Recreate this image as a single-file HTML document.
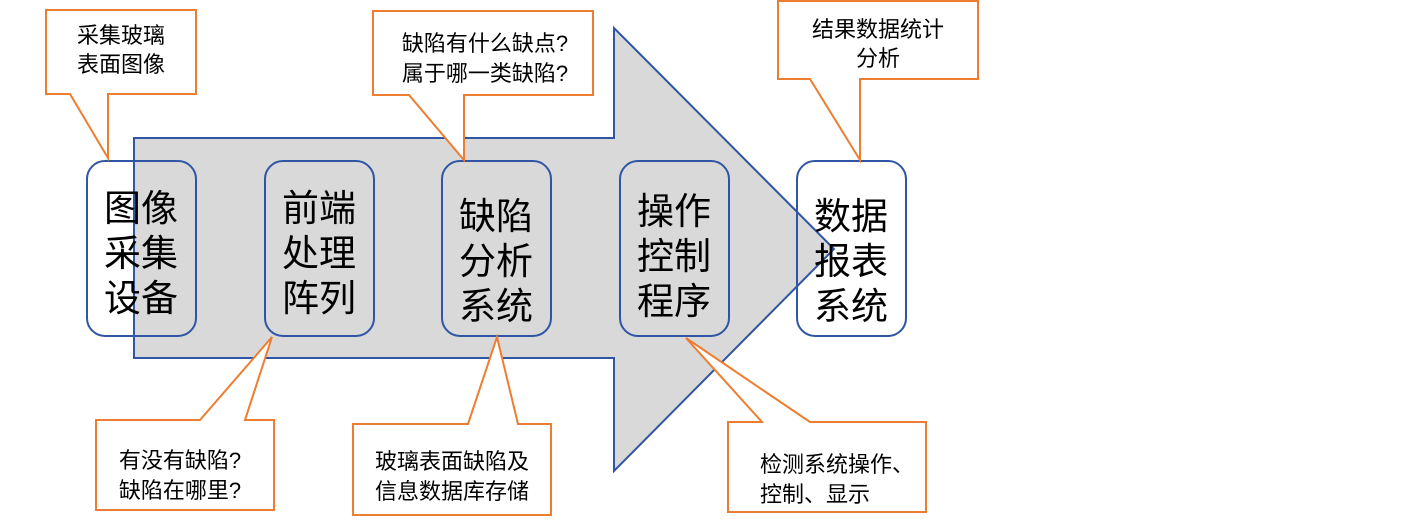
<!DOCTYPE html>
<html><head><meta charset="utf-8"><style>
html,body{margin:0;padding:0;background:#fff;}
svg text{font-family:"Liberation Sans","Noto Sans CJK SC",sans-serif;fill:#000;}
</style></head><body>
<svg width="1413" height="517" viewBox="0 0 1413 517" xmlns="http://www.w3.org/2000/svg">
<polygon points="134,138 614,138 614,28 834,249 614,471 614,358 134,358" fill="#d9d9d9" stroke="#2f55a4" stroke-width="2"/>
<g fill="none" stroke="#2f55a4" stroke-width="2">
<rect x="87" y="161" width="109" height="175" rx="18"/>
<rect x="265" y="161" width="109" height="175" rx="18"/>
<rect x="442" y="161" width="109" height="175" rx="18"/>
<rect x="620" y="161" width="109" height="175" rx="18"/>
<rect x="797" y="161" width="109" height="175" rx="18"/>
</g>
<g font-size="37" text-anchor="middle">
<text x="141" y="221">图像</text><text x="141" y="266">采集</text><text x="141" y="311">设备</text>
<text x="319" y="221">前端</text><text x="319" y="266">处理</text><text x="319" y="311">阵列</text>
<text x="496" y="229">缺陷</text><text x="496" y="274">分析</text><text x="496" y="319">系统</text>
<text x="674" y="224">操作</text><text x="674" y="269">控制</text><text x="674" y="314">程序</text>
<text x="851" y="229">数据</text><text x="851" y="274">报表</text><text x="851" y="319">系统</text>
</g>
<g fill="#fff" stroke="#ed7d31" stroke-width="2">
<path d="M46,10 H196 V94 H108 V158 L70,94 H46 Z"/>
<path d="M373,11 H593 V95 H464 V160 L409,95 H373 Z"/>
<path d="M778,1 H978 V79 H860 V160 L810,79 H778 Z"/>
<path d="M96,420 H200 L272,337 L245,420 H274 V510 H96 Z"/>
<path d="M353,424 H468 L497,337 L518,424 H551 V515 H353 Z"/>
<path d="M728,422 H762 L686,338 L810,422 H926 V512 H728 Z"/>
</g>
<g font-size="22" text-anchor="middle">
<text x="121" y="43">采集玻璃</text><text x="121" y="72">表面图像</text>
<text x="485" y="51">缺陷有什么缺点?</text><text x="485" y="81">属于哪一类缺陷?</text>
<text x="878" y="37">结果数据统计</text><text x="878" y="66">分析</text>
<text x="180" y="468">有没有缺陷?</text><text x="180" y="498">缺陷在哪里?</text>
<text x="452" y="469">玻璃表面缺陷及</text><text x="452" y="499">信息数据库存储</text>
</g>
<g font-size="22">
<text x="760" y="472">检测系统操作、</text><text x="760" y="502">控制、显示</text>
</g>
</svg>
</body></html>
